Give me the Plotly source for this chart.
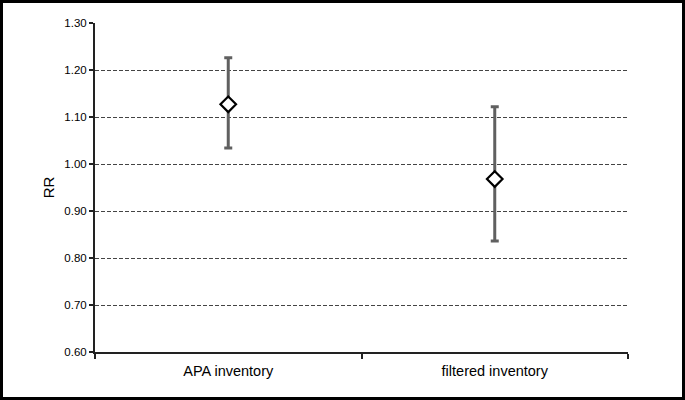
import plotly.graph_objects as go

categories = ["APA inventory", "filtered inventory"]
rr = [1.127, 0.968]
upper = [1.226, 1.122]
lower = [1.034, 0.836]

W, H = 685, 400
ml, mr, mt, mb = 95, 57, 23, 48
pw, ph = W - ml - mr, H - mt - mb

fig = go.Figure()
fig.add_trace(go.Scatter(
    x=categories, y=rr, mode="markers",
    marker=dict(symbol="diamond", size=12, color="white",
                line=dict(color="black", width=2.2)),
    error_y=dict(type="data", symmetric=False,
                 array=[u - v for u, v in zip(upper, rr)],
                 arrayminus=[v - l for v, l in zip(rr, lower)],
                 color="#606060", thickness=3, width=4),
    showlegend=False,
))

fx = lambda px: (px - ml) / pw
fy = lambda py: 1 - (py - mt) / ph
fig.add_shape(type="rect", xref="paper", yref="paper",
              x0=fx(1.5), x1=fx(W - 1.5), y0=fy(H - 1.5), y1=fy(1.5),
              line=dict(color="black", width=3), fillcolor="rgba(0,0,0,0)")

fig.update_layout(
    width=W, height=H,
    margin=dict(l=ml, r=mr, t=mt, b=mb),
    paper_bgcolor="white", plot_bgcolor="white",
    font=dict(family="Liberation Sans, Arial, sans-serif", color="black", size=12),
    xaxis=dict(type="category", range=[-0.5, 1.5], tickson="boundaries",
               ticks="outside", ticklen=5, ticklabelstandoff=5,
               tickcolor="#222222", tickwidth=1.5, showline=True, linecolor="#222222",
               linewidth=2, showgrid=False, tickfont=dict(size=14.5)),
    yaxis=dict(range=[0.6, 1.3], dtick=0.1, tickformat=".2f", ticks="outside",
               ticklen=4, tickcolor="#222222", tickwidth=1.5, showline=True,
               linecolor="#222222", linewidth=2, showgrid=True, gridcolor="#444444",
               griddash="4px,2px", gridwidth=1, zeroline=False,
               tickfont=dict(size=11.5),
               title=dict(text="RR", font=dict(size=15), standoff=6)),
)

fig.write_html("out.html", config={"displayModeBar": False},
               post_script="document.body.style.margin='0px';")
